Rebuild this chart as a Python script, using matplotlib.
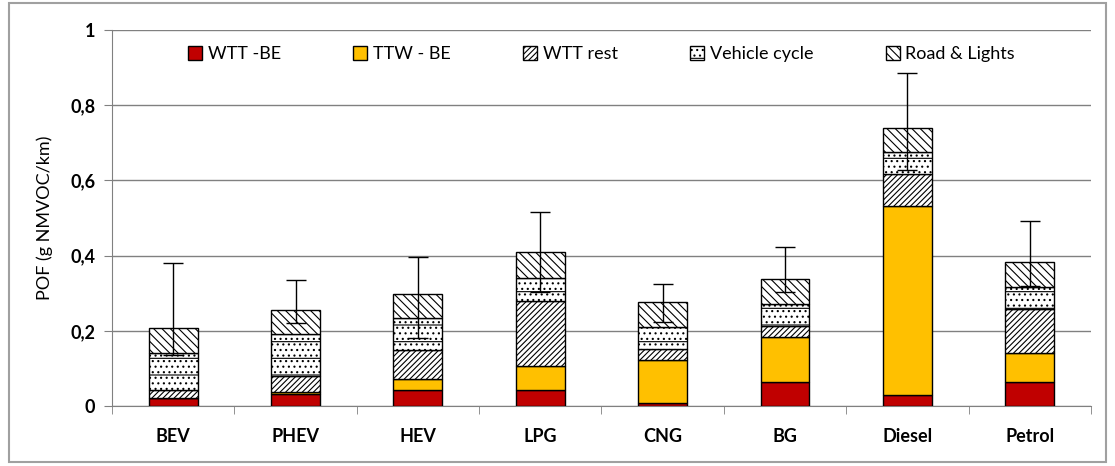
import matplotlib.pyplot as plt
import numpy as np

# Data (cumulative tops converted to segment heights)
categories = ['BEV', 'PHEV', 'HEV', 'LPG', 'CNG', 'BG', 'Diesel', 'Petrol']
wtt_be = [0.022, 0.031, 0.042, 0.043, 0.009, 0.065, 0.029, 0.065]
ttw_be = [0.000, 0.007, 0.029, 0.063, 0.113, 0.119, 0.503, 0.075]
wtt_rest = [0.020, 0.042, 0.078, 0.173, 0.030, 0.029, 0.085, 0.117]
vehicle_cycle = [0.098, 0.111, 0.084, 0.061, 0.059, 0.058, 0.058, 0.059]
road_lights = [0.067, 0.065, 0.064, 0.070, 0.066, 0.066, 0.065, 0.066]
err_low = [0.071, 0.036, 0.117, 0.106, 0.053, 0.033, 0.112, 0.063]
err_high = [0.173, 0.079, 0.100, 0.107, 0.047, 0.087, 0.146, 0.110]

series = [
    ('WTT -BE', wtt_be, '#c00000', None),
    ('TTW - BE', ttw_be, '#ffc000', None),
    ('WTT rest', wtt_rest, 'white', '//////'),
    ('Vehicle cycle', vehicle_cycle, 'white', '...-'),
    ('Road & Lights', road_lights, 'white', '\\\\\\\\'),
]

plt.rcParams['font.family'] = ['Lato', 'DejaVu Sans']
plt.rcParams['hatch.linewidth'] = 0.8

fig = plt.figure(figsize=(11.15, 4.66), dpi=100)
ax = fig.add_axes([0.1004, 0.1288, 0.8780, 0.8068])

x = np.arange(len(categories))
bottom = np.zeros(len(categories))
for name, vals, color, hatch in series:
    ax.bar(x, vals, width=0.4, bottom=bottom, color=color, edgecolor='black',
           linewidth=1, hatch=hatch, label=name, zorder=3)
    bottom += np.array(vals)

ax.errorbar(x, bottom, yerr=[err_low, err_high], fmt='none', ecolor='black',
            elinewidth=1, capsize=7, capthick=1, zorder=4)

ax.set_xlim(-0.5, len(categories) - 0.5)
ax.set_ylim(0, 1)
ax.set_yticks([0, 0.2, 0.4, 0.6, 0.8, 1])
ax.set_yticklabels(['0', '0,2', '0,4', '0,6', '0,8', '1'], fontsize=13, fontweight='bold')
ax.set_xticks(x)
ax.set_xticklabels(categories, fontsize=13, fontweight='bold')
ax.tick_params(axis='x', length=0, pad=16)
ax.set_xticks(np.arange(len(categories) + 1) - 0.5, minor=True)
ax.tick_params(axis='x', which='minor', length=6, color='#808080', direction='out')
ax.tick_params(axis='y', length=6, color='#808080', pad=6)
ax.set_ylabel('POF (g NMVOC/km)', fontsize=13, labelpad=12)

ax.grid(axis='y', color='#808080', linewidth=1, zorder=0)
for side in ['top', 'right']:
    ax.spines[side].set_visible(False)
for side in ['left', 'bottom']:
    ax.spines[side].set_color('#808080')

ax.legend(loc='upper center', bbox_to_anchor=(0.5, 1.0), ncol=5, frameon=False,
          fontsize=13, handlelength=0.8, handleheight=0.8, handletextpad=0.3,
          columnspacing=4.0)

# outer border around the whole chart
fig.patches.append(plt.Rectangle((0.008, 0.008), 0.984, 0.985, transform=fig.transFigure,
                                 fill=False, edgecolor='#a0a0a0', linewidth=1.5))

fig.savefig('out.png', dpi=100)
